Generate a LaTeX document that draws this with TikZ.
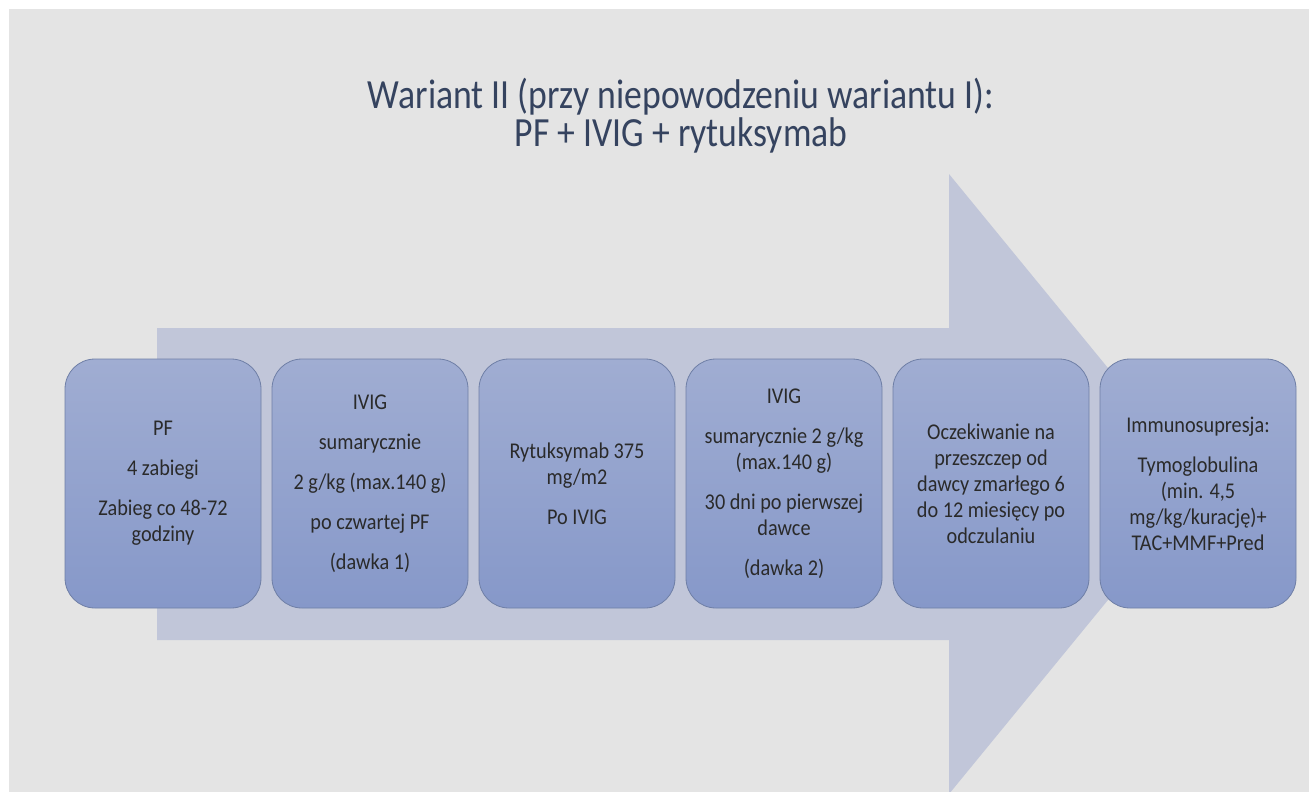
\documentclass[tikz,border=0pt]{standalone}
\usepackage{fontspec}
\setmainfont{Carlito}
\newfontfamily\titlefont[FakeStretch=0.86]{Carlito}
\newfontfamily\boxfont[FakeStretch=0.9]{Carlito}
\definecolor{bgray}{HTML}{E4E4E4}
\definecolor{arrowc}{HTML}{C1C6D9}
\definecolor{boxtop}{HTML}{A0ADD2}
\definecolor{boxbot}{HTML}{8698C9}
\definecolor{boxline}{HTML}{6F7FA6}
\definecolor{titlec}{HTML}{35435F}
\definecolor{txtc}{HTML}{2A2A2A}
\tikzset{
  stepbox/.style={draw=boxline, line width=0.8pt, rounded corners=30pt,
    top color=boxtop, bottom color=boxbot,
    minimum width=196pt, minimum height=249pt, text width=184pt,
    align=flush center, inner sep=0pt, text=txtc,
    font=\boxfont\fontsize{22.5}{26}\selectfont},
  titletext/.style={text=titlec, align=center, font=\titlefont\fontsize{41.5}{38}\selectfont}
}
\newcommand{\pgap}{\\[14pt]}
\begin{document}
\begin{tikzpicture}[x=1pt,y=-1pt]
\useasboundingbox (0,0) rectangle (1309,792);
\fill[white] (0,0) rectangle (1309,792);
\fill[bgray] (9,9) rectangle (1309,792);
\begin{scope}
\clip (9,9) rectangle (1309,792);
\fill[arrowc] (157,328) -- (949,328) -- (949,174) -- (1203,484) -- (949,794) -- (949,640) -- (157,640) -- cycle;
\end{scope}
\node[titletext] (title) at (681,116) {Wariant II (przy niepowodzeniu wariantu I):\\PF + IVIG + rytuksymab};
\node[stepbox] (b1) at (163,483.5) {PF\pgap 4 zabiegi\pgap Zabieg co 48-72\\godziny};
\node[stepbox] (b2) at (370,483.5) {IVIG\pgap sumarycznie\pgap 2 g/kg (max.140 g)\pgap po czwartej PF\pgap (dawka 1)};
\node[stepbox] (b3) at (577,483.5) {Rytuksymab 375\\mg/m2\pgap Po IVIG};
\node[stepbox] (b4) at (784,483.5) {IVIG\pgap sumarycznie 2 g/kg\\(max.140 g)\pgap 30 dni po pierwszej\\dawce\pgap (dawka 2)};
\node[stepbox] (b5) at (991,483.5) {Oczekiwanie na\\przeszczep od\\dawcy zmarłego 6\\do 12 miesięcy po\\odczulaniu};
\node[stepbox] (b6) at (1198,483.5) {Immunosupresja:\pgap Tymoglobulina\\(min. 4,5\\mg/kg/kurację)+\\TAC+MMF+Pred};
\end{tikzpicture}
\end{document}
